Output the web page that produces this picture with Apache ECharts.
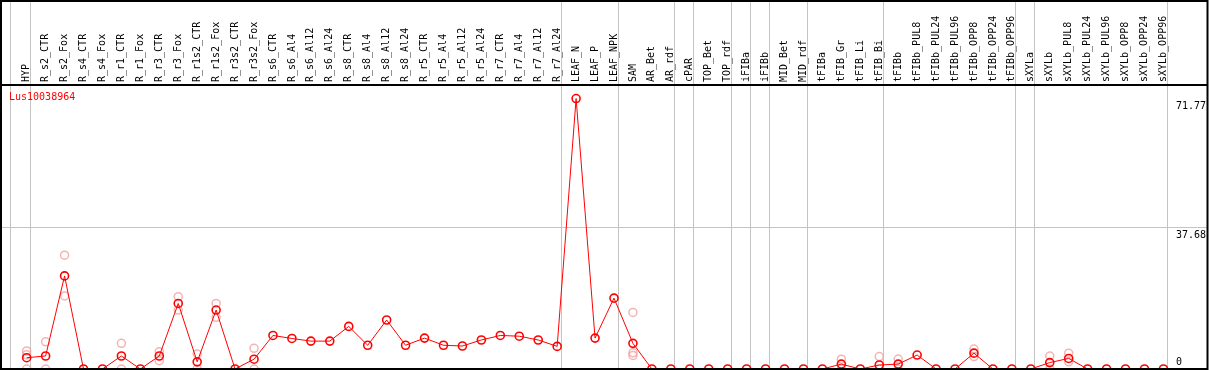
<!DOCTYPE html>
<html>
<head>
    <meta charset="utf-8">
    <style>
        html, body {
            margin: 0;
            background: #fff;
        }

        #chart-panel {
            width: 1209px;
            height: 370px;
        }
    </style>
    <script src="https://cdn.jsdelivr.net/npm/echarts@6/dist/echarts.min.js"></script>
</head>
<body>
<div id="chart-panel"></div>
<script type="text/javascript">

  var geneName = 'Lus10038964';

  var categories = ['HYP', 'R_s2_CTR', 'R_s2_Fox', 'R_s4_CTR', 'R_s4_Fox', 'R_r1_CTR', 'R_r1_Fox',
    'R_r3_CTR', 'R_r3_Fox', 'R_r1s2_CTR', 'R_r1s2_Fox', 'R_r3s2_CTR', 'R_r3s2_Fox', 'R_s6_CTR',
    'R_s6_Al4', 'R_s6_Al12', 'R_s6_Al24', 'R_s8_CTR', 'R_s8_Al4', 'R_s8_Al12', 'R_s8_Al24',
    'R_r5_CTR', 'R_r5_Al4', 'R_r5_Al12', 'R_r5_Al24', 'R_r7_CTR', 'R_r7_Al4', 'R_r7_Al12',
    'R_r7_Al24', 'LEAF_N', 'LEAF_P', 'LEAF_NPK', 'SAM', 'AR_Bet', 'AR_rdf', 'cPAR', 'TOP_Bet',
    'TOP_rdf', 'iFIBa', 'iFIBb', 'MID_Bet', 'MID_rdf', 'tFIBa', 'tFIB_Gr', 'tFIB_Li', 'tFIB_Bi',
    'tFIBb', 'tFIBb_PUL8', 'tFIBb_PUL24', 'tFIBb_PUL96', 'tFIBb_OPP8', 'tFIBb_OPP24', 'tFIBb_OPP96',
    'sXYLa', 'sXYLb', 'sXYLb_PUL8', 'sXYLb_PUL24', 'sXYLb_PUL96', 'sXYLb_OPP8', 'sXYLb_OPP24',
    'sXYLb_OPP96'];

  // mean expression per sample
  var means = [3.0, 3.45, 24.7, 0, 0, 3.45, 0,
    3.45, 17.4, 1.9, 15.65, 0, 2.6, 8.9,
    8.1, 7.4, 7.4, 11.3, 6.3, 13.0, 6.3,
    8.2, 6.3, 6.1, 7.7, 8.9, 8.7, 7.7,
    6.0, 71.77, 8.2, 18.8, 6.8, 0, 0, 0, 0,
    0, 0, 0, 0, 0, 0, 1.3, 0, 1.06,
    1.3, 3.7, 0, 0, 4.2, 0, 0,
    0, 1.7, 2.8, 0, 0, 0, 0,
    0];

  // single replicates (pale circles)
  var replicates = [
    ['HYP', 4.8], ['HYP', 3.8], ['HYP', 0],
    ['R_s2_CTR', 7.2], ['R_s2_CTR', 0],
    ['R_s2_Fox', 30.2], ['R_s2_Fox', 19.4],
    ['R_r1_CTR', 6.8], ['R_r1_CTR', 0],
    ['R_r3_CTR', 4.6], ['R_r3_CTR', 2.2],
    ['R_r3_Fox', 19.2], ['R_r3_Fox', 15.65],
    ['R_r1s2_CTR', 4.0], ['R_r1s2_CTR', 0],
    ['R_r1s2_Fox', 17.4], ['R_r1s2_Fox', 13.7],
    ['R_r3s2_Fox', 5.5], ['R_r3s2_Fox', 0],
    ['SAM', 15.0], ['SAM', 4.3], ['SAM', 3.6],
    ['tFIB_Gr', 2.6], ['tFIB_Gr', 0],
    ['tFIB_Bi', 3.3], ['tFIB_Bi', 0],
    ['tFIBb', 2.65], ['tFIBb', 0],
    ['tFIBb_OPP8', 5.3], ['tFIBb_OPP8', 3.3],
    ['sXYLb', 3.45], ['sXYLb', 0],
    ['sXYLb_PUL8', 4.2], ['sXYLb_PUL8', 1.9]
  ];

  // last sample of each tissue group (a separator is drawn after it)
  var groupEnds = ['HYP', 'R_r7_Al24', 'LEAF_NPK', 'AR_rdf', 'cPAR', 'TOP_rdf', 'iFIBa',
    'iFIBb', 'MID_rdf', 'tFIB_Bi', 'tFIBb_OPP96', 'sXYLa', 'sXYLb_OPP96'];

  var yLabels = [0, 37.68, 71.77];
  var yMax = 75.36;
  var yGrid = 37.68;

  var mono = 'DejaVu Sans Mono';

  var myChart = echarts.init(document.getElementById('chart-panel'));

  var option = {
    animation: false,
    title: {
      text: geneName,
      left: 4,
      top: 87,
      textStyle: {color: '#ff0000', fontFamily: mono, fontSize: 10, fontWeight: 'normal'}
    },
    grid: {
      left: 17.2,
      right: 32.8,
      top: 85,
      bottom: 1
    },
    xAxis: {
      type: 'category',
      position: 'top',
      data: categories,
      boundaryGap: true,
      axisLine: {show: false},
      axisTick: {show: false},
      splitLine: {show: false},
      axisLabel: {
        interval: 0,
        rotate: 90,
        margin: 3,
        color: '#000',
        fontFamily: mono,
        fontSize: 10
      }
    },
    yAxis: {
      type: 'value',
      position: 'right',
      min: 0,
      max: yMax,
      axisLine: {show: false},
      axisTick: {show: false},
      splitLine: {show: false},
      axisLabel: {
        customValues: yLabels,
        margin: 3,
        color: '#000',
        fontFamily: mono,
        fontSize: 10,
        formatter: function (v) {
          return v === 0 ? '{b|0}' : '{t|' + v + '}';
        },
        rich: {
          t: {fontFamily: mono, fontSize: 10, color: '#000', padding: [16, 0, 0, 0]},
          b: {fontFamily: mono, fontSize: 10, color: '#000', padding: [0, 0, 14, 0]}
        }
      }
    },
    series: [{
      name: 'replicates',
      type: 'scatter',
      data: replicates,
      symbol: 'circle',
      symbolSize: 8,
      z: 3,
      itemStyle: {color: 'rgba(0,0,0,0)', borderColor: '#f2a0a0', borderWidth: 1.5},
      emphasis: {disabled: true}
    }, {
      name: geneName,
      type: 'line',
      data: means,
      symbol: 'circle',
      symbolSize: 8,
      showAllSymbol: true,
      clip: false,
      z: 4,
      lineStyle: {color: '#ff0000', width: 1},
      itemStyle: {color: 'rgba(0,0,0,0)', borderColor: '#ff0000', borderWidth: 1.6},
      emphasis: {disabled: true}
    }]
  };

  myChart.setOption(option);

  // separators, mid gridline and frame, placed through the chart's own scales
  var gridColor = '#c4c4c4';
  var elements = [];
  var first = myChart.convertToPixel({xAxisIndex: 0}, categories[0]);
  var seps = [first - 16.4];
  groupEnds.forEach(function (name) {
    seps.push(myChart.convertToPixel({xAxisIndex: 0}, name) + 3.6);
  });
  seps.forEach(function (x) {
    var px = Math.round(x) + 0.5;
    elements.push({
      type: 'line', z: 0, silent: true,
      shape: {x1: px, y1: 0, x2: px, y2: 370},
      style: {stroke: gridColor, lineWidth: 1}
    });
  });
  var gy = Math.round(myChart.convertToPixel({yAxisIndex: 0}, yGrid)) + 0.5;
  elements.push({
    type: 'line', z: 0, silent: true,
    shape: {x1: 0, y1: gy, x2: 1208, y2: gy},
    style: {stroke: gridColor, lineWidth: 1}
  });
  var topY = myChart.convertToPixel({yAxisIndex: 0}, yMax);
  elements.push({
    type: 'line', z: 10, silent: true,
    shape: {x1: 0, y1: topY, x2: 1208, y2: topY},
    style: {stroke: '#000', lineWidth: 2}
  });
  elements.push({
    type: 'rect', z: 10, silent: true,
    shape: {x: 1, y: 1, width: 1206.5, height: 368},
    style: {fill: 'none', stroke: '#000', lineWidth: 2}
  });

  myChart.setOption({graphic: {elements: elements}});
</script>
</body>
</html>
